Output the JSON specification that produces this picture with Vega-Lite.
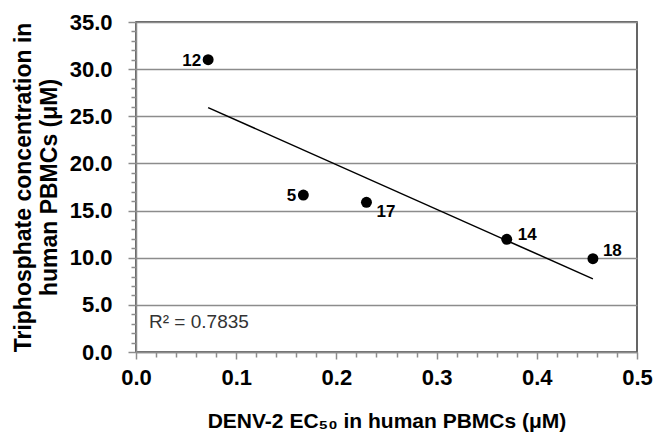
{
  "$schema": "https://vega.github.io/schema/vega-lite/v6.json",
  "autosize": "none",
  "width": 501,
  "height": 330,
  "padding": {"left": 136, "top": 22, "right": 18, "bottom": 82},
  "background": "white",
  "config": {
    "font": "Liberation Sans",
    "view": {"stroke": "#333333", "strokeWidth": 1.5},
    "axis": {
      "labelFont": "Liberation Sans",
      "labelFontWeight": "bold",
      "labelFontSize": 22,
      "labelColor": "#000000",
      "titleFont": "Liberation Sans",
      "titleFontWeight": "bold",
      "titleColor": "#000000",
      "domainColor": "#8c8c8c",
      "domainWidth": 1.5,
      "tickColor": "#8c8c8c",
      "tickWidth": 1.5,
      "gridColor": "#8c8c8c",
      "gridWidth": 1.5
    }
  },
  "data": {
    "values": [
      {"compound": "12", "ec50": 0.072, "tp": 31.0},
      {"compound": "5", "ec50": 0.167, "tp": 16.65},
      {"compound": "17", "ec50": 0.230, "tp": 15.88},
      {"compound": "14", "ec50": 0.370, "tp": 11.95},
      {"compound": "18", "ec50": 0.456, "tp": 9.9}
    ]
  },
  "layer": [
    {
      "mark": {"type": "line", "color": "#000000", "strokeWidth": 1.5},
      "transform": [{"regression": "tp", "on": "ec50"}],
      "encoding": {
        "x": {
          "field": "ec50", "type": "quantitative",
          "scale": {"domain": [0, 0.5], "nice": false, "zero": false},
          "axis": {
            "values": [0, 0.02, 0.04, 0.06, 0.08, 0.1, 0.12, 0.14, 0.16, 0.18, 0.2, 0.22, 0.24, 0.26, 0.28, 0.3, 0.32, 0.34, 0.36, 0.38, 0.4, 0.42, 0.44, 0.46, 0.48, 0.5],
            "tickCount": 200,
            "labelExpr": "round(datum.value*100) % 10 === 0 ? format(datum.value, '.1f') : ''",
            "labelOverlap": false,
            "labelFlush": false,
            "grid": false,
            "tickSize": {"condition": {"test": "round(datum.value*100) % 10 === 0", "value": 7}, "value": 5},
            "labelPadding": 8,
            "title": "DENV-2 EC₅₀ in human PBMCs (μM)",
            "titleFontSize": 21,
            "titlePadding": 22
          }
        },
        "y": {
          "field": "tp", "type": "quantitative",
          "scale": {"domain": [0, 35], "nice": false, "zero": true},
          "axis": {
            "values": [0,1,2,3,4,5,6,7,8,9,10,11,12,13,14,15,16,17,18,19,20,21,22,23,24,25,26,27,28,29,30,31,32,33,34,35],
            "tickCount": 200,
            "labelExpr": "datum.value % 5 === 0 ? format(datum.value, '.1f') : ''",
            "labelOverlap": false,
            "labelFlush": false,
            "grid": true,
            "gridOpacity": {"condition": {"test": "datum.value % 5 === 0", "value": 1}, "value": 0},
            "tickSize": {"condition": {"test": "datum.value % 5 === 0", "value": 8}, "value": 5},
            "labelPadding": 16,
            "title": ["Triphosphate concentration in", "human PBMCs (μM)"],
            "titleFontSize": 23,
            "titleLineHeight": 26,
            "titlePadding": 8
          }
        }
      }
    },
    {
      "mark": {"type": "point", "shape": "circle", "filled": true, "color": "#000000", "opacity": 1, "size": 120},
      "encoding": {
        "x": {"field": "ec50", "type": "quantitative"},
        "y": {"field": "tp", "type": "quantitative"}
      }
    },
    {
      "transform": [{"filter": "datum.compound === '12' || datum.compound === '5'"}],
      "mark": {"type": "text", "align": "right", "baseline": "middle", "dx": -7, "dy": 1, "fontSize": 17, "fontWeight": "bold", "color": "#000000"},
      "encoding": {
        "x": {"field": "ec50", "type": "quantitative"},
        "y": {"field": "tp", "type": "quantitative"},
        "text": {"field": "compound"}
      }
    },
    {
      "transform": [{"filter": "datum.compound === '17'"}],
      "mark": {"type": "text", "align": "left", "baseline": "middle", "dx": 10, "dy": 10, "fontSize": 17, "fontWeight": "bold", "color": "#000000"},
      "encoding": {
        "x": {"field": "ec50", "type": "quantitative"},
        "y": {"field": "tp", "type": "quantitative"},
        "text": {"field": "compound"}
      }
    },
    {
      "transform": [{"filter": "datum.compound === '14'"}],
      "mark": {"type": "text", "align": "left", "baseline": "middle", "dx": 11, "dy": -4, "fontSize": 17, "fontWeight": "bold", "color": "#000000"},
      "encoding": {
        "x": {"field": "ec50", "type": "quantitative"},
        "y": {"field": "tp", "type": "quantitative"},
        "text": {"field": "compound"}
      }
    },
    {
      "transform": [{"filter": "datum.compound === '18'"}],
      "mark": {"type": "text", "align": "left", "baseline": "middle", "dx": 10, "dy": -8, "fontSize": 17, "fontWeight": "bold", "color": "#000000"},
      "encoding": {
        "x": {"field": "ec50", "type": "quantitative"},
        "y": {"field": "tp", "type": "quantitative"},
        "text": {"field": "compound"}
      }
    },
    {
      "data": {"values": [{"label": "R² = 0.7835", "ec50": 0.013, "tp": 3.15}]},
      "mark": {"type": "text", "align": "left", "baseline": "middle", "fontSize": 19, "fontWeight": "normal", "color": "#333333"},
      "encoding": {
        "x": {"field": "ec50", "type": "quantitative"},
        "y": {"field": "tp", "type": "quantitative"},
        "text": {"field": "label"}
      }
    }
  ]
}
